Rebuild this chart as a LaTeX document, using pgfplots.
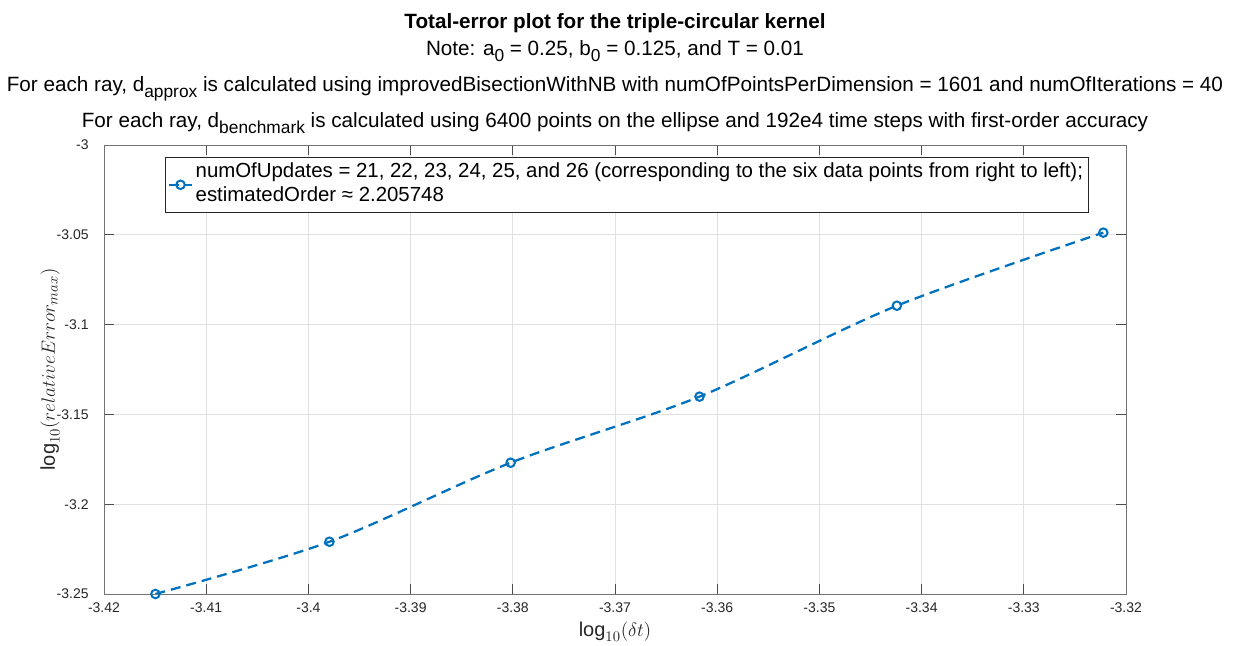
\documentclass[border=0pt]{standalone}
\usepackage{pgfplots}
\pgfplotsset{compat=1.18}
\usepackage{fontspec}
\setmainfont{Liberation Sans}
\definecolor{mblue}{RGB}{0,114,189}
\definecolor{maxis}{RGB}{38,38,38}
\newcommand{\sub}[1]{\raisebox{-4.5pt}{\fontsize{13}{13}\selectfont #1}}
\begin{document}
\begin{tikzpicture}
\path[use as bounding box] (-78pt,-39pt) rectangle (849pt,445.5pt);
\begin{axis}[
  at={(0,0)}, anchor=south west,
  scale only axis, width=766.5pt, height=336.75pt,
  xmin=-3.42, xmax=-3.32, ymin=-3.25, ymax=-3,
  xtick={-3.42,-3.41,-3.40,-3.39,-3.38,-3.37,-3.36,-3.35,-3.34,-3.33,-3.32},
  xticklabels={-3.42,-3.41,-3.4,-3.39,-3.38,-3.37,-3.36,-3.35,-3.34,-3.33,-3.32},
  ytick={-3.25,-3.2,-3.15,-3.1,-3.05,-3},
  yticklabels={-3.25,-3.2,-3.15,-3.1,-3.05,-3},
  grid=major, major grid style={black!12, line width=0.5pt},
  axis line style={black!55, line width=0.6pt},
  tick style={black!70, line width=0.6pt},
  tick align=inside, major tick length=7.5pt,
  ticklabel style={font=\fontsize{10.5}{12}\selectfont, text=maxis},
  xticklabel style={yshift=-3pt},
  yticklabel style={xshift=-8pt},
  xlabel={$\log_{10}(\delta t)$},
  ylabel={$\log_{10}(relativeError_{max})$},
  label style={font=\fontsize{15}{17}\selectfont, text=maxis},
  xlabel style={at={(axis description cs:0.5,-0.0846)}, anchor=center},
  ylabel style={at={(axis description cs:-0.0528,0.5)}, anchor=center, rotate=0},
  legend style={at={(axis description cs:0.0597,0.973)}, anchor=north west,
    draw=maxis, line width=0.5pt, font=\fontsize{15.3}{17.5}\selectfont,
    inner xsep=2pt, inner ysep=1pt, nodes={text depth=, text height=}},
  legend cell align=left,
]
\addplot[mblue, line width=1.7pt, dash pattern=on 7.5pt off 4.5pt, smooth,
  mark=o, mark size=3.2pt, mark options={solid, fill=white, line width=1.5pt}]
  coordinates {
  (-3.41497,-3.2500)
  (-3.39794,-3.2209)
  (-3.38021,-3.1769)
  (-3.36173,-3.1401)
  (-3.34242,-3.0895)
  (-3.32222,-3.0488)
  };
\addlegendentry{\begin{tabular}[t]{@{}l@{}}numOfUpdates = 21, 22, 23, 24, 25, and 26 (corresponding to the six data points from right to left);\\estimatedOrder ≈ 2.205748\end{tabular}}
\end{axis}
\node[anchor=base, font=\fontsize{15.5}{17}\selectfont\bfseries] at (383.25pt,424.25pt) {Total-error plot for the triple-circular kernel};
\node[anchor=base, font=\fontsize{15.5}{17}\selectfont] at (383.25pt,404pt) {Note: a\sub{0} = 0.25, b\sub{0} = 0.125, and T = 0.01};
\node[anchor=base, font=\fontsize{15.5}{17}\selectfont] at (383.25pt,376.5pt) {For each ray, d\sub{approx} is calculated using improvedBisectionWithNB with numOfPointsPerDimension = 1601 and numOfIterations = 40};
\node[anchor=base, font=\fontsize{15.5}{17}\selectfont] at (383.25pt,349.5pt) {For each ray, d\sub{benchmark} is calculated using 6400 points on the ellipse and 192e4 time steps with first-order accuracy};
\end{tikzpicture}
\end{document}
